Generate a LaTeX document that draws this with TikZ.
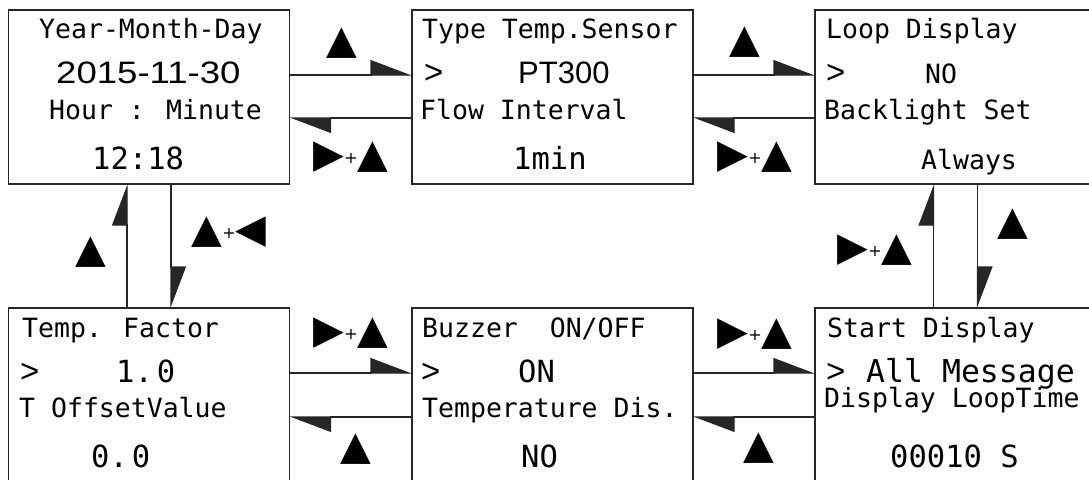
\documentclass[tikz,border=0pt]{standalone}
\usepackage{fontspec}
\usetikzlibrary{arrows.meta}
\newfontfamily\monofont{DejaVu Sans Mono}
\newfontfamily\digfont{Liberation Sans}
\newfontfamily\digwide[FakeStretch=1.18]{Liberation Sans}
\newfontfamily\symfont{DejaVu Sans}
\newcommand\kplus{{\fontsize{16}{16}\selectfont\raisebox{4pt}{+}}}
\begin{document}
\begin{tikzpicture}[x=1pt,y=-1pt,
  screen/.style={draw=black!85, line width=1.2pt, minimum width=281pt, minimum height=174pt, inner sep=0pt, outer sep=0pt, anchor=north west},
  lcd/.style={anchor=base west, inner sep=0pt, font=\monofont\fontsize{26.5}{26.5}\selectfont},
  lcdbig/.style={anchor=base west, inner sep=0pt, font=\monofont\fontsize{30.5}{30.5}\selectfont},
  lcddig/.style={anchor=base west, inner sep=0pt, font=\digfont\fontsize{31}{31}\selectfont},
  cursor/.style={anchor=base west, inner sep=0pt, font=\digfont\fontsize{33}{33}\selectfont},
  link/.style={draw=black!85, line width=1.2pt, -{Triangle[harpoon,length=40pt,width=30pt]}},
  key/.style={inner sep=0pt, font=\symfont\fontsize{40}{40}\selectfont},
]
\useasboundingbox (0,0) rectangle (1089,479);
% screens
\node[screen] (tl) at (8.5,10) {};
\node[screen] (tm) at (412,10) {};
\node[screen] (tr) at (815,10) {};
\node[screen] (bl) at (8.5,308) {};
\node[screen] (bm) at (412,308) {};
\node[screen] (br) at (815,308) {};
% texts top-left
\node[lcd] (tla) at (39,38) {Year-Month-Day};
\node[lcddig, font=\digwide\fontsize{31}{31}\selectfont] (tlb) at (56,83) {2015-11-30};
\node[lcd] (tlc) at (49,119) {Hour : Minute};
\node[lcdbig] (tld) at (92,169) {12:18};
% top-middle
\node[lcd] (tma) at (422,38) {Type Temp.Sensor};
\node[cursor] (tmb) at (424,83) {>};
\node[lcddig] (tmc) at (518,83) {PT300};
\node[lcd] (tmd) at (420,119) {Flow Interval};
\node[lcdbig] (tme) at (513,169) {1min};
% top-right
\node[lcd] (tra) at (826,38) {Loop Display};
\node[cursor] (trb) at (826,83) {>};
\node[lcd] (trc) at (925,83) {NO};
\node[lcd] (trd) at (824,119) {Backlight Set};
\node[lcd] (tre) at (921,169) {Always};
% bottom-left
\node[lcd] (bla) at (22,337) {Temp. Factor};
\node[cursor] (blb) at (20,382) {>};
\node[lcdbig] (blc) at (116,382) {1.\kern4pt 0};
\node[lcd] (bld) at (19,417) {T OffsetValue};
\node[lcdbig] (ble) at (91,467) {0.\kern4pt 0};
% bottom-middle
\node[lcd] (bma) at (422,337) {Buzzer\ \ ON/OFF};
\node[cursor] (bmb) at (421,382) {>};
\node[lcdbig] (bmc) at (518,382) {ON};
\node[lcd] (bmd) at (422,417) {Temperature Dis.};
\node[lcdbig] (bme) at (521,467) {NO};
% bottom-right
\node[lcd] (bra) at (827,337) {Start Display};
\node[cursor] (brb) at (826,382) {>};
\node[lcdbig] (brc) at (866,382) {\fontsize{31.5}{31.5}\selectfont All Message};
\node[lcd] (brd) at (824,407) {Display LoopTime};
\node[lcdbig] (bre) at (890,467) {00010 S};
% horizontal connectors
\draw[link] ([yshift=22pt]tl.east) -- ([yshift=22pt]tm.west);
\draw[link] ([yshift=-21pt]tm.west) -- ([yshift=-21pt]tl.east);
\draw[link] ([yshift=22pt]tm.east) -- ([yshift=22pt]tr.west);
\draw[link] ([yshift=-21pt]tr.west) -- ([yshift=-21pt]tm.east);
\draw[link] ([yshift=22pt]bl.east) -- ([yshift=22pt]bm.west);
\draw[link] ([yshift=-22pt]bm.west) -- ([yshift=-22pt]bl.east);
\draw[link] ([yshift=22pt]bm.east) -- ([yshift=22pt]br.west);
\draw[link] ([yshift=-22pt]br.west) -- ([yshift=-22pt]bm.east);
% vertical connectors
\draw[link] ([xshift=-22pt]bl.north) -- ([xshift=-22pt]tl.south);
\draw[link] ([xshift=22pt]tl.south) -- ([xshift=22pt]bl.north);
\draw[link] ([xshift=-22pt]br.north) -- ([xshift=-22pt]tr.south);
\draw[link] ([xshift=22pt]tr.south) -- ([xshift=22pt]br.north);
% key labels
\node[key] (k1) at (342,43) {▲};
\node[key] (k2) at (351,157) {▶\kplus▲};
\node[key] (k3) at (745,42) {▲};
\node[key] (k4) at (755,157) {▶\kplus▲};
\node[key] (k5) at (91,252) {▲};
\node[key] (k6) at (229,232) {▲\kplus◀};
\node[key] (k7) at (875,250) {▶\kplus▲};
\node[key] (k8) at (1013,224) {▲};
\node[key] (k9) at (351,333) {▶\kplus▲};
\node[key] (k10) at (356,449) {▲};
\node[key] (k11) at (755,334) {▶\kplus▲};
\node[key] (k12) at (759,448) {▲};
\end{tikzpicture}
\end{document}
